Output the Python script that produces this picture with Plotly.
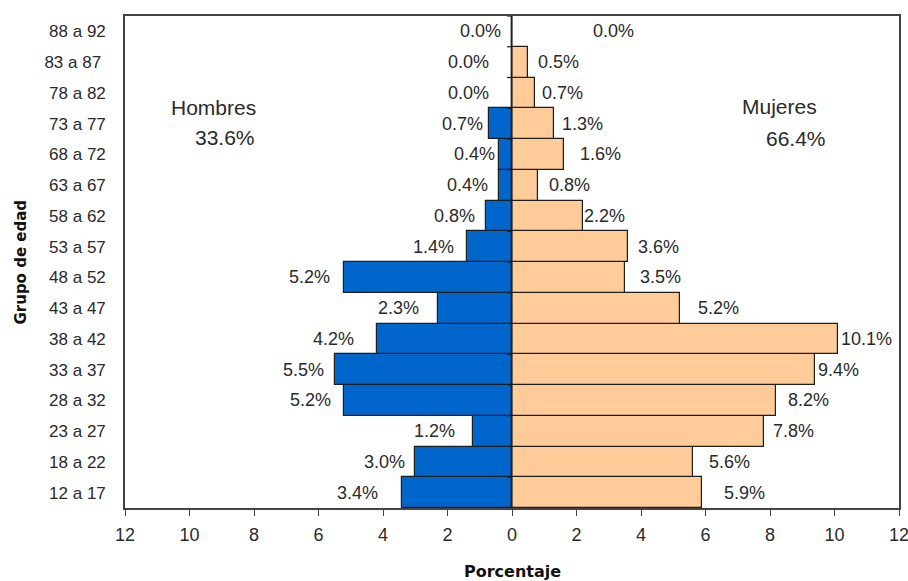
import plotly.graph_objects as go

# Age groups, bottom to top
grupos = ["12 a 17", "18 a 22", "23 a 27", "28 a 32", "33 a 37", "38 a 42",
          "43 a 47", "48 a 52", "53 a 57", "58 a 62", "63 a 67", "68 a 72",
          "73 a 77", "78 a 82", "83 a 87\u00a0", "88 a 92"]

# Share of total population (%)
hombres = [3.4, 3.0, 1.2, 5.2, 5.5, 4.2, 2.3, 5.2, 1.4, 0.8, 0.4, 0.4, 0.7, 0.0, 0.0, 0.0]
mujeres = [5.9, 5.6, 7.8, 8.2, 9.4, 10.1, 5.2, 3.5, 3.6, 2.2, 0.8, 1.6, 1.3, 0.7, 0.5, 0.0]

total_hombres = 33.6
total_mujeres = 66.4

x_ticks = [-12, -10, -8, -6, -4, -2, 0, 2, 4, 6, 8, 10, 12]

# Pixel gaps between bar ends and their value labels
gap_h = [23, 9, 17, 12, 10, 22, 18, 13, 12, 10, 10, 3, 5, 22, 22, 10]
gap_m = [21, 15, 8, 11, 2, 2, 17, 14, 9, 0, 10, 15, 7, 6, 9, 80]

AZUL = "#0066CC"
MELOCOTON = "#FFCC99"
BORDE = "#1e1e1e"
TEXTO = "#2a2a2a"
FUENTE = "Liberation Sans, Arial, sans-serif"

fig = go.Figure()
fig.add_trace(go.Bar(
    y=grupos, x=[-v for v in hombres], orientation="h", name="Hombres",
    marker=dict(color=AZUL, line=dict(color=BORDE, width=1.2)),
    hoverinfo="skip"))
fig.add_trace(go.Bar(
    y=grupos, x=mujeres, orientation="h", name="Mujeres",
    marker=dict(color=MELOCOTON, line=dict(color=BORDE, width=1.2)),
    hoverinfo="skip"))

anns = []
for g, v, d in zip(grupos, hombres, gap_h):
    anns.append(dict(x=-v, y=g, xref="x", yref="y", text=f"{v:.1f}%",
                     showarrow=False, xanchor="right", xshift=-d + 1,
                     font=dict(family=FUENTE, size=18, color=TEXTO)))
for g, v, d in zip(grupos, mujeres, gap_m):
    anns.append(dict(x=v, y=g, xref="x", yref="y", text=f"{v:.1f}%",
                     showarrow=False, xanchor="left", xshift=d - 1,
                     font=dict(family=FUENTE, size=18, color=TEXTO)))

# Group totals
for txt, x, y in [("Hombres", -9.25, 0.815), (f"{total_hombres:.1f}%", -8.9, 0.754),
                  ("Mujeres", 8.29, 0.817), (f"{total_mujeres:.1f}%", 8.82, 0.752)]:
    anns.append(dict(x=x, y=y, xref="x", yref="paper", text=txt, showarrow=False,
                     xanchor="center", yanchor="middle",
                     font=dict(family=FUENTE, size=21, color=TEXTO)))

# Axis titles
anns.append(dict(x=0.5, y=-0.13, xref="paper", yref="paper", text="<b>Porcentaje</b>",
                 showarrow=False, xanchor="center", yanchor="middle",
                 font=dict(family="DejaVu Sans, sans-serif", size=16, color="#111")))
anns.append(dict(x=-0.135, y=0.5, xref="paper", yref="paper", text="<b>Grupo de edad</b>",
                 showarrow=False, textangle=-90, xanchor="center", yanchor="middle",
                 font=dict(family="DejaVu Sans, sans-serif", size=15, color="#111")))

# Centre axis line with small tick marks between age groups
shapes = [dict(type="line", xref="x", yref="paper", x0=0, x1=0, y0=0, y1=1,
               line=dict(color=BORDE, width=1.2), layer="above")]
for k in range(len(grupos) + 1):
    shapes.append(dict(type="line", xref="x", yref="y", xsizemode="pixel", xanchor=0,
                       x0=-5, x1=0, y0=k - 0.5, y1=k - 0.5,
                       line=dict(color=BORDE, width=1.2), layer="above"))

fig.update_layout(
    width=908, height=581,
    margin=dict(l=125, r=9, t=16, b=73),
    barmode="overlay", bargap=0,
    showlegend=False,
    plot_bgcolor="white", paper_bgcolor="white",
    annotations=anns, shapes=shapes,
    xaxis=dict(range=[-12, 12], tickvals=x_ticks,
               ticktext=[str(abs(t)) for t in x_ticks],
               showgrid=False, zeroline=False, automargin=False,
               ticklabeloverflow="allow", ticklabelstandoff=4,
               showline=True, mirror=True, linecolor="#444", linewidth=1.5,
               ticks="outside", ticklen=6, tickcolor="#444", tickwidth=1.2,
               tickfont=dict(family=FUENTE, size=18, color=TEXTO),
               fixedrange=True),
    yaxis=dict(type="category", categoryorder="array", categoryarray=grupos,
               range=[-0.5, len(grupos) - 0.5], automargin=False,
               showgrid=False, zeroline=False,
               showline=True, mirror=True, linecolor="#444", linewidth=1.5,
               ticks="", ticklabelstandoff=14,
               tickfont=dict(family=FUENTE, size=17, color=TEXTO),
               fixedrange=True),
)

fig.write_html("out.html")
